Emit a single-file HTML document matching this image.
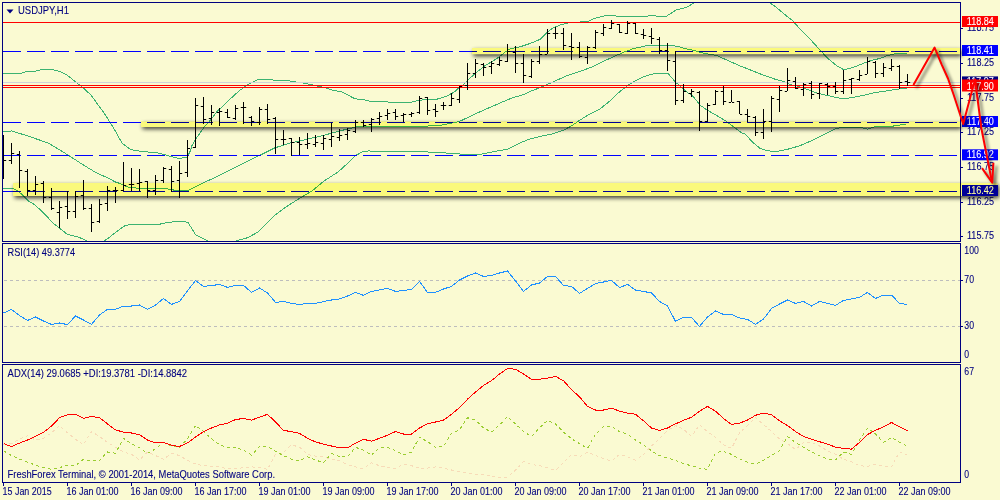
<!DOCTYPE html><html><head><meta charset="utf-8"><title>USDJPY,H1</title>
<style>html,body{margin:0;padding:0;background:#FAFAD2;}body{width:1000px;height:500px;overflow:hidden;}svg{display:block;font-family:"Liberation Sans",sans-serif;}</style></head><body>
<svg width="1000" height="500" viewBox="0 0 1000 500">
<defs>
<clipPath id="cm"><rect x="3" y="3" width="957" height="238"/></clipPath>
<filter id="blur1" x="-10%" y="-100%" width="120%" height="300%"><feGaussianBlur stdDeviation="2.3"/></filter>
<filter id="blur2" x="-20%" y="-20%" width="140%" height="140%"><feGaussianBlur stdDeviation="1.8"/></filter>
<clipPath id="s1"><rect x="460" y="54.2" width="540" height="12"/></clipPath>
<clipPath id="s2"><rect x="130" y="127" width="870" height="12"/></clipPath>
<clipPath id="s3"><rect x="0" y="196" width="1000" height="12"/></clipPath>
</defs>
<rect width="1000" height="500" fill="#FAFAD2"/>
<g clip-path="url(#cm)">
<polyline points="3.0,73.6 20.0,73.6 25.6,71.7 35.2,71.2 41.6,69.6 51.2,69.3 59.2,71.2 67.2,75.2 75.2,81.6 83.2,88.0 91.2,95.2 99.2,106.4 105.6,115.2 112.0,125.6 116.0,132.2 122.2,143.4 130.9,149.6 140.8,151.4 157.0,152.7 165.6,154.8 170.6,156.4 179.3,158.5 187.3,157.0 190.4,150.8 192.0,145.4 197.0,137.3 204.4,126.8 210.6,120.0 216.8,111.9 224.3,104.5 231.7,97.6 239.2,90.8 246.4,85.6 252.8,82.1 258.4,79.2 270.4,79.2 273.6,80.3 286.4,80.3 296.0,82.1 304.0,83.2 312.0,84.8 326.4,88.0 332.8,90.4 340.8,91.5 348.8,95.5 355.2,98.9 363.2,99.5 371.2,101.6 384.0,101.6 394.7,102.8 409.6,102.5 419.6,100.3 427.0,99.4 436.9,99.2 446.8,96.1 454.3,92.0 459.3,87.4 463.4,84.6 468.4,79.6 475.9,72.8 484.5,66.0 493.2,60.8 499.4,56.7 505.6,51.7 510.6,48.6 520.5,46.7 530.4,43.4 540.0,39.4 547.4,31.9 553.6,27.6 559.9,25.1 568.5,22.9 588.4,21.4 594.6,18.3 602.0,16.4 608.2,15.4 614.4,15.4 617.0,16.4 646.7,16.4 649.2,15.4 654.1,15.4 657.9,16.4 666.0,16.4 670.0,14.0 676.0,10.0 686.0,7.6 694.0,3.0 697.0,0.0" fill="none" stroke="#3CB371" stroke-width="1" shape-rendering="crispEdges"/>
<polyline points="766.0,0.0 770.0,3.0 776.0,7.0 784.0,14.0 792.0,20.0 800.0,29.0 810.0,39.0 820.0,50.0 823.1,53.4 829.3,59.6 836.8,65.9 843.6,69.6 850.4,68.3 860.4,64.6 870.3,60.6 880.2,58.4 887.7,55.5 895.1,53.7 907.0,53.4" fill="none" stroke="#3CB371" stroke-width="1" shape-rendering="crispEdges"/>
<polyline points="3.0,131.2 12.0,131.0 24.0,134.8 36.0,138.8 48.0,143.0 60.0,150.0 72.0,157.6 84.0,165.4 96.0,172.6 108.0,178.0 116.0,182.3 120.0,183.4 128.4,187.3 140.8,188.5 165.6,188.5 175.6,190.4 188.0,190.4 194.2,187.4 202.8,183.0 215.3,177.5 227.7,171.3 240.0,165.1 260.0,155.2 275.0,147.8 291.1,142.8 306.0,139.5 323.4,135.4 339.5,131.0 355.7,127.0 365.0,126.5 422.0,126.5 429.5,125.9 439.4,125.5 451.8,123.0 459.3,121.5 471.7,115.6 484.0,110.0 500.0,103.0 512.0,98.0 524.0,94.4 530.4,91.4 542.8,86.5 555.3,80.9 567.7,75.3 580.0,71.4 592.0,67.0 604.0,61.0 616.0,55.6 624.4,52.0 632.8,48.8 642.4,46.6 649.6,45.2 671.2,45.2 678.4,46.6 685.6,48.8 694.2,50.5 704.1,53.3 716.5,55.4 726.4,59.8 738.8,65.4 751.3,70.3 763.7,75.3 776.0,79.5 783.4,81.4 790.9,84.7 798.3,86.3 807.0,89.4 816.9,93.1 828.1,95.6 840.5,98.4 846.7,98.4 855.4,96.9 865.3,95.0 875.3,92.5 887.7,90.7 900.0,88.8 907.0,88.0" fill="none" stroke="#3CB371" stroke-width="1" shape-rendering="crispEdges"/>
<polyline points="3.0,188.5 13.0,188.7 16.0,189.8 22.3,194.7 28.5,201.0 34.7,204.7 43.4,212.7 53.3,223.3 59.5,228.2 67.6,234.5 75.7,236.3 84.4,239.4 90.0,243.0" fill="none" stroke="#3CB371" stroke-width="1" shape-rendering="crispEdges"/>
<polyline points="100.0,243.0 106.7,239.4 115.4,232.6 124.7,225.8 129.6,224.5 158.2,224.5 165.6,222.9 175.6,221.4 183.6,221.4 188.0,222.4 195.4,234.5 204.0,239.0 207.0,240.6 210.0,243.0" fill="none" stroke="#3CB371" stroke-width="1" shape-rendering="crispEdges"/>
<polyline points="233.0,243.0 237.0,240.6 248.0,237.6 258.0,232.0 264.0,226.0 274.0,216.0 286.0,207.0 300.0,198.0 312.0,191.0 324.0,181.0 338.0,172.0 348.0,163.0 355.7,155.5 361.9,152.1 368.0,151.0 416.0,151.4 440.0,152.6 460.0,154.0 472.0,155.0 480.0,154.4 492.0,152.0 508.0,149.0 520.0,143.0 528.0,139.6 540.0,136.4 552.0,134.0 564.0,130.0 572.0,125.6 580.0,120.0 590.0,114.0 600.0,109.0 611.8,99.4 618.4,92.8 626.8,86.2 634.0,81.4 642.4,77.2 652.0,74.2 660.4,73.0 667.6,73.0 671.2,77.2 676.0,82.6 680.4,86.2 686.6,91.8 692.8,96.1 700.3,105.4 707.7,110.4 717.6,116.0 727.6,122.2 735.0,127.8 742.4,133.3 745.4,134.2 752.6,142.3 759.8,148.2 767.0,150.9 777.8,151.3 786.8,149.5 799.4,145.9 812.0,140.5 824.6,134.2 835.4,128.8 842.6,127.3 860.6,127.3 867.8,129.1 875.0,126.6 893.0,126.1 906.5,123.9" fill="none" stroke="#3CB371" stroke-width="1" shape-rendering="crispEdges"/>
<rect x="3" y="82" width="957" height="1" fill="#D2D2DA"/>
<rect x="3" y="22" width="957" height="1" fill="#FF0000"/>
<rect x="3" y="85" width="957" height="1" fill="#FF0000"/>
<rect x="3" y="87" width="957" height="1" fill="#FF0000"/>
<line x1="3" y1="51.5" x2="960" y2="51.5" stroke="#0000FF" stroke-width="1" stroke-dasharray="18 6" shape-rendering="crispEdges"/>
<line x1="3" y1="122.5" x2="960" y2="122.5" stroke="#0000FF" stroke-width="1" stroke-dasharray="18 6" shape-rendering="crispEdges"/>
<line x1="3" y1="155.5" x2="960" y2="155.5" stroke="#0000FF" stroke-width="1" stroke-dasharray="18 6" shape-rendering="crispEdges"/>
<line x1="3" y1="191.5" x2="960" y2="191.5" stroke="#0000FF" stroke-width="1" stroke-dasharray="18 6" shape-rendering="crispEdges"/>
<path d="M3.5 135V179M3.0 150.5h-2.2M4.0 160.5h2.2M11.5 143V164M11.0 160.5h-2.2M12.0 153.5h2.2M19.5 151V188M19.0 154.5h-2.2M20.0 170.5h2.2M27.5 169V196M27.0 171.5h-2.2M28.0 190.5h2.2M35.5 176V195M35.0 190.5h-2.2M36.0 184.5h2.2M43.5 181V203M43.0 183.5h-2.2M44.0 197.5h2.2M51.5 188V210M51.0 197.5h-2.2M52.0 208.5h2.2M59.5 201V228M59.0 212.5h-2.2M60.0 207.5h2.2M67.5 191V219M67.0 206.5h-2.2M68.0 211.5h2.2M75.5 191V218M75.0 211.5h-2.2M76.0 196.5h2.2M83.5 180V210M83.0 195.5h-2.2M84.0 208.5h2.2M91.5 204V232M91.0 208.5h-2.2M92.0 222.5h2.2M99.5 199V223M99.0 221.5h-2.2M100.0 204.5h2.2M107.5 186V211M107.0 203.5h-2.2M108.0 190.5h2.2M115.5 187V203M115.0 190.5h-2.2M116.0 190.5h2.2M123.5 162V191M123.0 190.5h-2.2M124.0 185.5h2.2M131.5 168V191M131.0 184.5h-2.2M132.0 184.5h2.2M139.5 169V191M139.0 183.5h-2.2M140.0 182.5h2.2M147.5 181V198M147.0 181.5h-2.2M148.0 190.5h2.2M155.5 175V195M155.0 190.5h-2.2M156.0 180.5h2.2M163.5 167V183M163.0 180.5h-2.2M164.0 168.5h2.2M171.5 166V192M171.0 169.5h-2.2M172.0 181.5h2.2M179.5 161V198M179.0 180.5h-2.2M180.0 173.5h2.2M187.5 140V177M187.0 172.5h-2.2M188.0 148.5h2.2M195.5 98V148M195.0 147.5h-2.2M196.0 105.5h2.2M203.5 97V124M203.0 106.5h-2.2M204.0 119.5h2.2M211.5 105V125M211.0 118.5h-2.2M212.0 112.5h2.2M219.5 108V126M219.0 112.5h-2.2M220.0 111.5h2.2M227.5 109V118M227.0 112.5h-2.2M228.0 117.5h2.2M235.5 105V120M235.0 118.5h-2.2M236.0 108.5h2.2M243.5 102V124M243.0 107.5h-2.2M244.0 107.5h2.2M251.5 116V126M251.0 117.5h-2.2M252.0 121.5h2.2M259.5 107V125M259.0 122.5h-2.2M260.0 109.5h2.2M267.5 104V124M267.0 109.5h-2.2M268.0 119.5h2.2M275.5 117V154M275.0 118.5h-2.2M276.0 139.5h2.2M283.5 130V145M283.0 139.5h-2.2M284.0 139.5h2.2M291.5 138V156M291.0 138.5h-2.2M292.0 142.5h2.2M299.5 137V155M299.0 142.5h-2.2M300.0 144.5h2.2M307.5 133V149M307.0 144.5h-2.2M308.0 143.5h2.2M315.5 135V147M315.0 144.5h-2.2M316.0 142.5h2.2M323.5 135V150M323.0 143.5h-2.2M324.0 138.5h2.2M331.5 123V147M331.0 139.5h-2.2M332.0 136.5h2.2M339.5 129V141M339.0 137.5h-2.2M340.0 135.5h2.2M347.5 128V140M347.0 134.5h-2.2M348.0 130.5h2.2M355.5 120V133M355.0 131.5h-2.2M356.0 122.5h2.2M363.5 120V127M363.0 122.5h-2.2M364.0 125.5h2.2M371.5 118V132M371.0 124.5h-2.2M372.0 119.5h2.2M379.5 112V125M379.0 118.5h-2.2M380.0 116.5h2.2M387.5 109V120M387.0 115.5h-2.2M388.0 113.5h2.2M395.5 109V120M395.0 112.5h-2.2M396.0 116.5h2.2M403.5 113V122M403.0 115.5h-2.2M404.0 114.5h2.2M411.5 112V117M411.0 114.5h-2.2M412.0 113.5h2.2M419.5 96V114M419.0 112.5h-2.2M420.0 98.5h2.2M427.5 97V115M427.0 97.5h-2.2M428.0 110.5h2.2M435.5 104V117M435.0 109.5h-2.2M436.0 111.5h2.2M443.5 102V110M443.0 105.5h-2.2M444.0 105.5h2.2M451.5 93V106M451.0 105.5h-2.2M452.0 98.5h2.2M459.5 86V103M459.0 99.5h-2.2M460.0 86.5h2.2M467.5 63V90M467.0 85.5h-2.2M468.0 73.5h2.2M475.5 59V78M475.0 73.5h-2.2M476.0 63.5h2.2M483.5 63V76M483.0 64.5h-2.2M484.0 67.5h2.2M491.5 61V74M491.0 66.5h-2.2M492.0 63.5h2.2M499.5 57V66M499.0 64.5h-2.2M500.0 60.5h2.2M507.5 44V62M507.0 61.5h-2.2M508.0 51.5h2.2M515.5 46V73M515.0 52.5h-2.2M516.0 63.5h2.2M523.5 54V83M523.0 63.5h-2.2M524.0 75.5h2.2M531.5 59V78M531.0 76.5h-2.2M532.0 61.5h2.2M539.5 46V64M539.0 61.5h-2.2M540.0 54.5h2.2M547.5 29V54M547.0 54.5h-2.2M548.0 33.5h2.2M555.5 27V39M555.0 33.5h-2.2M556.0 33.5h2.2M563.5 28V50M563.0 33.5h-2.2M564.0 45.5h2.2M571.5 33V60M571.0 46.5h-2.2M572.0 47.5h2.2M579.5 42V58M579.0 47.5h-2.2M580.0 56.5h2.2M587.5 46V64M587.0 57.5h-2.2M588.0 47.5h2.2M595.5 30V49M595.0 47.5h-2.2M596.0 32.5h2.2M603.5 24V36M603.0 33.5h-2.2M604.0 27.5h2.2M611.5 20V29M611.0 28.5h-2.2M612.0 23.5h2.2M619.5 24V33M619.0 24.5h-2.2M620.0 32.5h2.2M627.5 21V34M627.0 33.5h-2.2M628.0 23.5h2.2M635.5 23V34M635.0 23.5h-2.2M636.0 33.5h2.2M643.5 29V39M643.0 34.5h-2.2M644.0 35.5h2.2M651.5 28V44M651.0 36.5h-2.2M652.0 38.5h2.2M659.5 37V54M659.0 39.5h-2.2M660.0 50.5h2.2M667.5 43V71M667.0 50.5h-2.2M668.0 60.5h2.2M675.5 51V105M675.0 61.5h-2.2M676.0 100.5h2.2M683.5 84V103M683.0 100.5h-2.2M684.0 91.5h2.2M691.5 89V97M691.0 93.5h-2.2M692.0 91.5h2.2M699.5 91V131M699.0 92.5h-2.2M700.0 121.5h2.2M707.5 103V122M707.0 121.5h-2.2M708.0 105.5h2.2M715.5 90V105M715.0 104.5h-2.2M716.0 91.5h2.2M723.5 86V105M723.0 91.5h-2.2M724.0 101.5h2.2M731.5 90V102M731.0 102.5h-2.2M732.0 102.5h2.2M739.5 101V114M739.0 101.5h-2.2M740.0 114.5h2.2M747.5 109V122M747.0 114.5h-2.2M748.0 116.5h2.2M755.5 116V136M755.0 117.5h-2.2M756.0 132.5h2.2M763.5 109V139M763.0 132.5h-2.2M764.0 121.5h2.2M771.5 96V132M771.0 121.5h-2.2M772.0 98.5h2.2M779.5 86V112M779.0 99.5h-2.2M780.0 90.5h2.2M787.5 68V91M787.0 91.5h-2.2M788.0 80.5h2.2M795.5 77V89M795.0 81.5h-2.2M796.0 88.5h2.2M803.5 83V96M803.0 89.5h-2.2M804.0 84.5h2.2M811.5 81V99M811.0 83.5h-2.2M812.0 94.5h2.2M819.5 83V99M819.0 93.5h-2.2M820.0 83.5h2.2M827.5 83V95M827.0 84.5h-2.2M828.0 86.5h2.2M835.5 82V94M835.0 86.5h-2.2M836.0 91.5h2.2M843.5 70V94M843.0 91.5h-2.2M844.0 80.5h2.2M851.5 78V94M851.0 79.5h-2.2M852.0 78.5h2.2M859.5 70V81M859.0 79.5h-2.2M860.0 75.5h2.2M867.5 57V74M867.0 74.5h-2.2M868.0 61.5h2.2M875.5 61V78M875.0 62.5h-2.2M876.0 73.5h2.2M883.5 63V77M883.0 73.5h-2.2M884.0 67.5h2.2M891.5 59V71M891.0 68.5h-2.2M892.0 66.5h2.2M899.5 65V89M899.0 66.5h-2.2M900.0 82.5h2.2M907.5 74V86M907.0 81.5h-2.2M908.0 82.5h2.2" fill="none" stroke="#000" stroke-width="1"/>
</g>
<line x1="4" y1="280.5" x2="960" y2="280.5" stroke="#BDBDBD" stroke-width="1" stroke-dasharray="3 3" shape-rendering="crispEdges"/>
<line x1="4" y1="326.5" x2="960" y2="326.5" stroke="#BDBDBD" stroke-width="1" stroke-dasharray="3 3" shape-rendering="crispEdges"/>
<polyline points="3.5,313.0 11.5,309.4 19.5,315.6 27.5,320.4 35.5,317.0 43.5,321.0 51.5,324.4 59.5,323.0 67.5,324.6 75.5,316.0 83.5,320.0 91.5,324.4 99.5,315.0 107.5,309.4 115.5,309.4 123.5,306.0 131.5,306.0 139.5,305.0 147.5,309.4 155.5,305.0 163.5,298.4 171.5,304.4 179.5,301.4 187.5,291.0 195.5,280.4 203.5,286.4 211.5,285.6 219.5,284.4 227.5,287.4 235.5,285.4 243.5,285.4 251.5,292.4 259.5,288.0 267.5,293.0 275.5,302.4 283.5,301.4 291.5,303.4 299.5,304.4 307.5,303.4 315.5,303.4 323.5,301.6 331.5,300.0 339.5,299.0 347.5,296.0 355.5,292.4 363.5,295.4 371.5,291.4 379.5,290.0 387.5,288.4 395.5,291.4 403.5,290.4 411.5,289.4 419.5,281.4 427.5,292.4 435.5,292.4 443.5,289.0 451.5,286.4 459.5,280.0 467.5,276.0 475.5,273.0 483.5,276.4 491.5,275.4 499.5,273.0 507.5,271.0 515.5,281.0 523.5,291.4 531.5,285.0 539.5,283.0 547.5,276.4 555.5,276.4 563.5,285.4 571.5,286.4 579.5,293.4 587.5,288.4 595.5,283.6 603.5,282.0 611.5,280.4 619.5,287.6 627.5,284.4 635.5,290.0 643.5,291.4 651.5,293.0 659.5,301.4 667.5,306.0 675.5,321.4 683.5,317.4 691.5,317.4 699.5,326.4 707.5,317.0 715.5,311.0 723.5,314.4 731.5,314.4 739.5,318.0 747.5,319.4 755.5,324.4 763.5,319.0 771.5,308.5 779.5,304.0 787.5,300.0 795.5,303.4 803.5,301.4 811.5,306.0 819.5,301.4 827.5,303.4 835.5,305.4 843.5,300.4 851.5,299.0 859.5,297.4 867.5,292.4 875.5,298.4 883.5,295.0 891.5,295.0 899.5,303.4 907.5,304.4" fill="none" stroke="#1E90FF" stroke-width="1" shape-rendering="crispEdges"/>
<polyline points="3.5,444.8 11.5,443.6 19.5,438.8 27.5,435.9 35.5,440.0 43.5,438.3 51.5,432.8 59.5,425.6 67.5,432.8 75.5,439.3 83.5,444.8 91.5,431.6 99.5,436.4 107.5,442.4 115.5,447.2 123.5,452.0 131.5,454.4 139.5,459.9 147.5,452.0 155.5,455.6 163.5,459.2 171.5,453.2 179.5,455.6 187.5,460.4 195.5,464.0 203.5,465.7 211.5,466.4 219.5,466.9 227.5,468.8 235.5,468.8 243.5,467.6 251.5,466.9 259.5,467.6 267.5,469.3 275.5,454.4 283.5,452.7 291.5,444.8 299.5,447.2 307.5,454.4 315.5,456.1 323.5,456.8 331.5,459.2 339.5,460.9 347.5,464.5 355.5,466.9 363.5,468.8 371.5,462.8 379.5,465.7 387.5,467.6 395.5,468.8 403.5,464.0 411.5,465.7 419.5,468.1 427.5,468.1 435.5,466.9 443.5,468.1 451.5,470.0 459.5,471.9 467.5,473.1 475.5,474.3 483.5,474.8 491.5,476.0 499.5,477.2 507.5,477.2 515.5,470.0 523.5,461.6 531.5,464.5 539.5,465.7 547.5,467.6 555.5,470.5 563.5,462.8 571.5,454.4 579.5,456.8 587.5,452.0 595.5,455.6 603.5,458.5 611.5,461.1 619.5,454.4 627.5,456.8 635.5,460.4 643.5,454.4 651.5,446.0 659.5,438.8 667.5,430.4 675.5,425.6 683.5,429.2 691.5,436.4 699.5,424.9 707.5,431.6 715.5,437.6 723.5,444.8 731.5,448.4 739.5,432.8 747.5,425.6 755.5,417.7 763.5,424.4 771.5,431.6 779.5,438.8 787.5,443.6 795.5,449.6 803.5,442.4 811.5,442.4 819.5,446.0 827.5,450.8 835.5,454.4 843.5,459.2 851.5,461.6 859.5,465.7 867.5,466.4 875.5,464.5 883.5,466.4 891.5,466.9 899.5,452.0 907.5,455.1" fill="none" stroke="#F7DBB8" stroke-width="1" stroke-dasharray="3 3" shape-rendering="crispEdges"/>
<polyline points="3.5,450.8 11.5,455.6 19.5,459.2 27.5,462.1 35.5,465.2 43.5,467.6 51.5,469.3 59.5,467.6 67.5,465.2 75.5,465.7 83.5,459.2 91.5,461.1 99.5,460.4 107.5,452.0 115.5,453.2 123.5,438.3 131.5,443.6 139.5,447.9 147.5,453.2 155.5,448.9 163.5,442.4 171.5,446.0 179.5,447.7 187.5,438.8 195.5,425.6 203.5,431.6 211.5,438.8 219.5,444.8 227.5,447.7 235.5,447.2 243.5,450.3 251.5,455.1 259.5,446.5 267.5,446.5 275.5,451.3 283.5,455.6 291.5,459.2 299.5,460.9 307.5,456.8 315.5,459.9 323.5,462.8 331.5,453.2 339.5,456.8 347.5,456.8 355.5,447.2 363.5,450.3 371.5,455.1 379.5,447.7 387.5,447.2 395.5,450.8 403.5,454.9 411.5,452.0 419.5,437.1 427.5,441.7 435.5,447.2 443.5,446.5 451.5,433.3 459.5,429.9 467.5,417.7 475.5,420.3 483.5,428.0 491.5,432.1 499.5,424.9 507.5,416.7 515.5,423.9 523.5,431.6 531.5,436.4 539.5,428.0 547.5,420.3 555.5,423.9 563.5,432.1 571.5,438.8 579.5,443.6 587.5,448.4 595.5,434.0 603.5,426.8 611.5,426.3 619.5,431.6 627.5,434.0 635.5,440.0 643.5,444.8 651.5,450.8 659.5,455.6 667.5,458.0 675.5,460.4 683.5,463.5 691.5,465.9 699.5,468.1 707.5,469.5 715.5,452.7 723.5,451.3 731.5,454.4 739.5,459.2 747.5,462.1 755.5,464.0 763.5,460.4 771.5,455.6 779.5,450.8 787.5,436.4 795.5,442.4 803.5,447.2 811.5,452.0 819.5,455.6 827.5,459.2 835.5,459.9 843.5,452.0 851.5,454.4 859.5,440.0 867.5,428.0 875.5,434.0 883.5,442.4 891.5,437.6 899.5,442.4 907.5,446.0" fill="none" stroke="#9ACD32" stroke-width="1" stroke-dasharray="3 3" shape-rendering="crispEdges"/>
<polyline points="3.5,443.6 11.5,446.5 19.5,443.1 27.5,440.0 35.5,436.4 43.5,432.3 51.5,426.1 59.5,417.7 67.5,414.8 75.5,414.3 83.5,418.4 91.5,416.5 99.5,417.7 107.5,423.9 115.5,429.9 123.5,432.1 131.5,433.0 139.5,434.7 147.5,440.0 155.5,442.9 163.5,442.4 171.5,445.3 179.5,446.5 187.5,442.9 195.5,436.9 203.5,431.6 211.5,428.0 219.5,424.9 227.5,423.2 235.5,419.6 243.5,418.4 251.5,420.1 259.5,417.2 267.5,414.3 275.5,422.0 283.5,430.4 291.5,431.6 299.5,433.3 307.5,438.3 315.5,441.9 323.5,444.1 331.5,446.0 339.5,447.9 347.5,447.9 355.5,443.1 363.5,439.3 371.5,441.2 379.5,438.3 387.5,435.2 395.5,431.6 403.5,434.0 411.5,434.0 419.5,428.0 427.5,423.9 435.5,422.0 443.5,420.1 451.5,414.3 459.5,407.6 467.5,399.2 475.5,392.0 483.5,385.5 491.5,380.7 499.5,374.0 507.5,368.5 515.5,369.2 523.5,374.0 531.5,379.3 539.5,379.3 547.5,378.1 555.5,376.4 563.5,380.7 571.5,389.6 579.5,396.8 587.5,406.4 595.5,410.0 603.5,410.0 611.5,408.1 619.5,411.2 627.5,413.1 635.5,414.3 643.5,420.8 651.5,428.0 659.5,430.4 667.5,428.0 675.5,423.9 683.5,420.3 691.5,417.2 699.5,411.2 707.5,406.4 715.5,411.2 723.5,418.4 731.5,424.4 739.5,423.2 747.5,420.1 755.5,415.3 763.5,413.1 771.5,414.8 779.5,420.8 787.5,425.6 795.5,431.6 803.5,436.4 811.5,439.3 819.5,441.7 827.5,444.1 835.5,447.2 843.5,448.4 851.5,449.1 859.5,442.4 867.5,434.5 875.5,430.4 883.5,426.8 891.5,422.5 899.5,426.8 907.5,430.9" fill="none" stroke="#FF0000" stroke-width="1" shape-rendering="crispEdges"/>
<g fill="#000080" shape-rendering="crispEdges">
<rect x="2" y="2" width="959" height="1"/>
<rect x="2" y="2" width="1" height="240"/>
<rect x="2" y="241" width="959" height="1"/>
<rect x="960" y="2" width="1" height="240"/>
</g>
<g fill="#000080" shape-rendering="crispEdges">
<rect x="2" y="243" width="959" height="1"/>
<rect x="2" y="243" width="1" height="120"/>
<rect x="2" y="362" width="959" height="1"/>
<rect x="960" y="243" width="1" height="120"/>
</g>
<g fill="#000080" shape-rendering="crispEdges">
<rect x="2" y="364" width="959" height="1"/>
<rect x="2" y="364" width="1" height="119"/>
<rect x="2" y="482" width="959" height="1"/>
<rect x="960" y="364" width="1" height="119"/>
</g>
<rect x="961" y="28" width="2" height="1" fill="#000080"/>
<text x="967.0" y="31.2" font-size="10.0" fill="#000080" stroke="#000080" stroke-width="0.1" text-anchor="start" textLength="27.0" lengthAdjust="spacingAndGlyphs">118.75</text>
<rect x="961" y="63" width="2" height="1" fill="#000080"/>
<text x="967.0" y="66.2" font-size="10.0" fill="#000080" stroke="#000080" stroke-width="0.1" text-anchor="start" textLength="27.0" lengthAdjust="spacingAndGlyphs">118.25</text>
<rect x="961" y="98" width="2" height="1" fill="#000080"/>
<text x="967.0" y="101.2" font-size="10.0" fill="#000080" stroke="#000080" stroke-width="0.1" text-anchor="start" textLength="27.0" lengthAdjust="spacingAndGlyphs">117.75</text>
<rect x="961" y="132" width="2" height="1" fill="#000080"/>
<text x="967.0" y="135.2" font-size="10.0" fill="#000080" stroke="#000080" stroke-width="0.1" text-anchor="start" textLength="27.0" lengthAdjust="spacingAndGlyphs">117.25</text>
<rect x="961" y="167" width="2" height="1" fill="#000080"/>
<text x="967.0" y="170.2" font-size="10.0" fill="#000080" stroke="#000080" stroke-width="0.1" text-anchor="start" textLength="27.0" lengthAdjust="spacingAndGlyphs">116.75</text>
<rect x="961" y="202" width="2" height="1" fill="#000080"/>
<text x="967.0" y="205.2" font-size="10.0" fill="#000080" stroke="#000080" stroke-width="0.1" text-anchor="start" textLength="27.0" lengthAdjust="spacingAndGlyphs">116.25</text>
<rect x="961" y="236" width="2" height="1" fill="#000080"/>
<text x="967.0" y="239.2" font-size="10.0" fill="#000080" stroke="#000080" stroke-width="0.1" text-anchor="start" textLength="27.0" lengthAdjust="spacingAndGlyphs">115.75</text>
<text x="964.3" y="253.5" font-size="10.0" fill="#000080" stroke="#000080" stroke-width="0.1" text-anchor="start" textLength="14.5" lengthAdjust="spacingAndGlyphs">100</text>
<text x="964.3" y="283.3" font-size="10.0" fill="#000080" stroke="#000080" stroke-width="0.1" text-anchor="start" textLength="9.7" lengthAdjust="spacingAndGlyphs">70</text>
<text x="964.3" y="329.3" font-size="10.0" fill="#000080" stroke="#000080" stroke-width="0.1" text-anchor="start" textLength="9.7" lengthAdjust="spacingAndGlyphs">30</text>
<text x="964.3" y="358.0" font-size="10.0" fill="#000080" stroke="#000080" stroke-width="0.1" text-anchor="start" textLength="4.8" lengthAdjust="spacingAndGlyphs">0</text>
<rect x="961" y="280" width="2" height="1" fill="#000080"/>
<rect x="961" y="326" width="2" height="1" fill="#000080"/>
<text x="964.3" y="374.7" font-size="10.0" fill="#000080" stroke="#000080" stroke-width="0.1" text-anchor="start" textLength="9.7" lengthAdjust="spacingAndGlyphs">67</text>
<text x="964.3" y="478.0" font-size="10.0" fill="#000080" stroke="#000080" stroke-width="0.1" text-anchor="start" textLength="4.8" lengthAdjust="spacingAndGlyphs">0</text>
<rect x="3" y="483" width="1" height="3" fill="#000080"/>
<text x="2.6" y="495.0" font-size="10.0" fill="#000080" stroke="#000080" stroke-width="0.1" text-anchor="start" textLength="49.0" lengthAdjust="spacingAndGlyphs">15 Jan 2015</text>
<rect x="67" y="483" width="1" height="3" fill="#000080"/>
<text x="66.6" y="495.0" font-size="10.0" fill="#000080" stroke="#000080" stroke-width="0.1" text-anchor="start" textLength="52.0" lengthAdjust="spacingAndGlyphs">16 Jan 01:00</text>
<rect x="131" y="483" width="1" height="3" fill="#000080"/>
<text x="130.6" y="495.0" font-size="10.0" fill="#000080" stroke="#000080" stroke-width="0.1" text-anchor="start" textLength="52.0" lengthAdjust="spacingAndGlyphs">16 Jan 09:00</text>
<rect x="195" y="483" width="1" height="3" fill="#000080"/>
<text x="194.6" y="495.0" font-size="10.0" fill="#000080" stroke="#000080" stroke-width="0.1" text-anchor="start" textLength="52.0" lengthAdjust="spacingAndGlyphs">16 Jan 17:00</text>
<rect x="259" y="483" width="1" height="3" fill="#000080"/>
<text x="258.6" y="495.0" font-size="10.0" fill="#000080" stroke="#000080" stroke-width="0.1" text-anchor="start" textLength="52.0" lengthAdjust="spacingAndGlyphs">19 Jan 01:00</text>
<rect x="323" y="483" width="1" height="3" fill="#000080"/>
<text x="322.6" y="495.0" font-size="10.0" fill="#000080" stroke="#000080" stroke-width="0.1" text-anchor="start" textLength="52.0" lengthAdjust="spacingAndGlyphs">19 Jan 09:00</text>
<rect x="387" y="483" width="1" height="3" fill="#000080"/>
<text x="386.6" y="495.0" font-size="10.0" fill="#000080" stroke="#000080" stroke-width="0.1" text-anchor="start" textLength="52.0" lengthAdjust="spacingAndGlyphs">19 Jan 17:00</text>
<rect x="451" y="483" width="1" height="3" fill="#000080"/>
<text x="450.6" y="495.0" font-size="10.0" fill="#000080" stroke="#000080" stroke-width="0.1" text-anchor="start" textLength="52.0" lengthAdjust="spacingAndGlyphs">20 Jan 01:00</text>
<rect x="515" y="483" width="1" height="3" fill="#000080"/>
<text x="514.6" y="495.0" font-size="10.0" fill="#000080" stroke="#000080" stroke-width="0.1" text-anchor="start" textLength="52.0" lengthAdjust="spacingAndGlyphs">20 Jan 09:00</text>
<rect x="579" y="483" width="1" height="3" fill="#000080"/>
<text x="578.6" y="495.0" font-size="10.0" fill="#000080" stroke="#000080" stroke-width="0.1" text-anchor="start" textLength="52.0" lengthAdjust="spacingAndGlyphs">20 Jan 17:00</text>
<rect x="643" y="483" width="1" height="3" fill="#000080"/>
<text x="642.6" y="495.0" font-size="10.0" fill="#000080" stroke="#000080" stroke-width="0.1" text-anchor="start" textLength="52.0" lengthAdjust="spacingAndGlyphs">21 Jan 01:00</text>
<rect x="707" y="483" width="1" height="3" fill="#000080"/>
<text x="706.6" y="495.0" font-size="10.0" fill="#000080" stroke="#000080" stroke-width="0.1" text-anchor="start" textLength="52.0" lengthAdjust="spacingAndGlyphs">21 Jan 09:00</text>
<rect x="771" y="483" width="1" height="3" fill="#000080"/>
<text x="770.6" y="495.0" font-size="10.0" fill="#000080" stroke="#000080" stroke-width="0.1" text-anchor="start" textLength="52.0" lengthAdjust="spacingAndGlyphs">21 Jan 17:00</text>
<rect x="835" y="483" width="1" height="3" fill="#000080"/>
<text x="834.6" y="495.0" font-size="10.0" fill="#000080" stroke="#000080" stroke-width="0.1" text-anchor="start" textLength="52.0" lengthAdjust="spacingAndGlyphs">22 Jan 01:00</text>
<rect x="899" y="483" width="1" height="3" fill="#000080"/>
<text x="898.6" y="495.0" font-size="10.0" fill="#000080" stroke="#000080" stroke-width="0.1" text-anchor="start" textLength="52.0" lengthAdjust="spacingAndGlyphs">22 Jan 09:00</text>
<path d="M6.5 9.5h7l-3.5 4z" fill="#000080"/>
<text x="18.0" y="13.5" font-size="10.4" fill="#000080" stroke="#000080" stroke-width="0.1" text-anchor="start" textLength="51.0" lengthAdjust="spacingAndGlyphs">USDJPY,H1</text>
<text x="7.6" y="255.6" font-size="10.4" fill="#000080" stroke="#000080" stroke-width="0.1" text-anchor="start" textLength="67.5" lengthAdjust="spacingAndGlyphs">RSI(14) 49.3774</text>
<text x="7.6" y="377.0" font-size="10.4" fill="#000080" stroke="#000080" stroke-width="0.1" text-anchor="start" textLength="179.5" lengthAdjust="spacingAndGlyphs">ADX(14) 29.0685 +DI:19.3781 -DI:14.8842</text>
<text x="7.6" y="477.6" font-size="10.4" fill="#000080" stroke="#000080" stroke-width="0.1" text-anchor="start" textLength="267.5" lengthAdjust="spacingAndGlyphs">FreshForex Terminal, © 2001-2014, MetaQuotes Software Corp.</text>
<rect x="962" y="16.0" width="36" height="11" fill="#FF0000"/>
<text x="966.8" y="25.0" font-size="10.0" fill="#fff" stroke="#fff" stroke-width="0.1" text-anchor="start" textLength="27.0" lengthAdjust="spacingAndGlyphs">118.84</text>
<rect x="962" y="45.0" width="36" height="11" fill="#0000FF"/>
<text x="966.8" y="54.0" font-size="10.0" fill="#fff" stroke="#fff" stroke-width="0.1" text-anchor="start" textLength="27.0" lengthAdjust="spacingAndGlyphs">118.41</text>
<rect x="962" y="76.4" width="36" height="11" fill="#000080"/>
<text x="966.8" y="85.4" font-size="10.0" fill="#fff" stroke="#fff" stroke-width="0.1" text-anchor="start" textLength="27.0" lengthAdjust="spacingAndGlyphs">117.97</text>
<rect x="962" y="79.5" width="36" height="12" fill="#FF0000"/>
<text x="966.8" y="90.0" font-size="10.0" fill="#fff" stroke="#fff" stroke-width="0.1" text-anchor="start" textLength="27.0" lengthAdjust="spacingAndGlyphs">117.90</text>
<rect x="962" y="116.0" width="36" height="11" fill="#0000FF"/>
<text x="966.8" y="125.0" font-size="10.0" fill="#fff" stroke="#fff" stroke-width="0.1" text-anchor="start" textLength="27.0" lengthAdjust="spacingAndGlyphs">117.40</text>
<rect x="962" y="149.3" width="36" height="11" fill="#0000FF"/>
<text x="966.8" y="158.3" font-size="10.0" fill="#fff" stroke="#fff" stroke-width="0.1" text-anchor="start" textLength="27.0" lengthAdjust="spacingAndGlyphs">116.92</text>
<rect x="962" y="185.0" width="36" height="11" fill="#0000FF"/>
<text x="966.8" y="194.0" font-size="10.0" fill="#fff" stroke="#fff" stroke-width="0.1" text-anchor="start" textLength="27.0" lengthAdjust="spacingAndGlyphs">116.42</text>
<clipPath id="cs1"><path clip-rule="evenodd" d="M0 0H1000V500H0ZM472.0 48.0H960.0V54.2H472.0Z"/></clipPath>
<g clip-path="url(#cs1)"><rect x="473.5" y="50.1" width="488.0" height="6.2" fill="#000" opacity="0.75" filter="url(#blur1)"/></g>
<clipPath id="cs2"><path clip-rule="evenodd" d="M0 0H1000V500H0ZM141.0 121.4H960.0V127.0H141.0Z"/></clipPath>
<g clip-path="url(#cs2)"><rect x="142.5" y="123.5" width="819.0" height="5.6" fill="#000" opacity="0.75" filter="url(#blur1)"/></g>
<clipPath id="cs3"><path clip-rule="evenodd" d="M0 0H1000V500H0ZM13.0 183.0H997.5V196.0H13.0Z"/></clipPath>
<g clip-path="url(#cs3)"><rect x="14.5" y="185.1" width="984.5" height="13.0" fill="#000" opacity="0.75" filter="url(#blur1)"/></g>
<rect x="472.0" y="48.0" width="488.0" height="6.2" fill="#FFFE97" style="mix-blend-mode:multiply"/>
<rect x="141.0" y="121.4" width="819.0" height="5.6" fill="#FFFE97" style="mix-blend-mode:multiply"/>
<rect x="13.0" y="183.0" width="984.5" height="13.0" fill="#FFFE97" style="mix-blend-mode:multiply"/>
<g transform="translate(3,3)" opacity="0.5" filter="url(#blur2)"><path d="M913.4 85L934.6 47.6L941.6 64.3L948 78.5L953.4 94L958 108L963.2 124L975 79.5L981.5 129L992 182" fill="none" stroke="#000" stroke-width="2.2" stroke-linejoin="round"/><path d="M982 168.2L992.2 182.6L993.4 162.8" fill="none" stroke="#000" stroke-width="2.2"/></g>
<path d="M913.4 85L934.6 47.6L941.6 64.3L948 78.5L953.4 94L958 108L963.2 124L975 79.5L981.5 129L992 182" fill="none" stroke="#FF0000" stroke-width="2" stroke-linejoin="round"/>
<path d="M982 168.2L992.2 182.6L993.4 162.8" fill="none" stroke="#FF0000" stroke-width="2" stroke-linejoin="round"/>
</svg></body></html>
